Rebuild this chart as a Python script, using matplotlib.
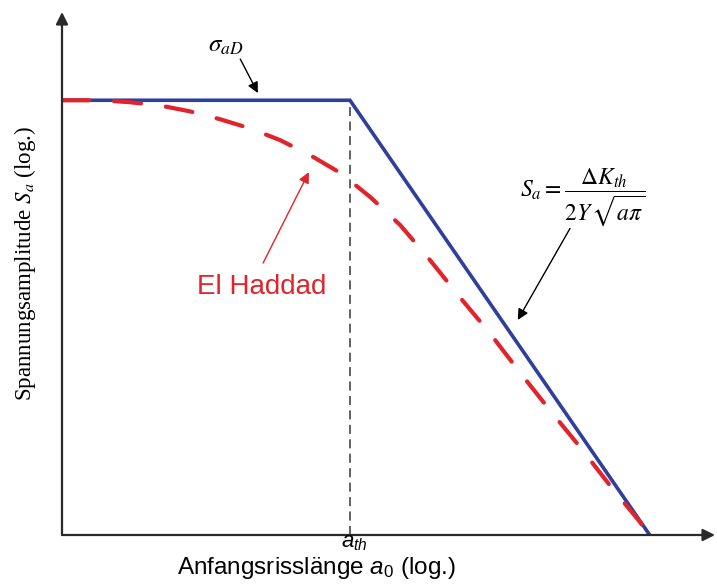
import numpy as np
import matplotlib
matplotlib.use("Agg")
import matplotlib.pyplot as plt

# ── Data (log units, arbitrary scale) ─────────────────────────────────────────

# Kitagawa–Takahashi limit: plateau at sigma_aD, then LEFM line
kt_x = [0.0, 4.41, 9.00]
kt_y = [6.65, 6.65, 0.0]

# El Haddad curve
eh_x = [0.0, 0.58, 1.04, 1.50, 1.96, 2.42, 2.88, 3.34, 3.80, 4.26, 4.72,
        5.18, 5.64, 6.09, 6.55, 7.01, 7.47, 7.93, 8.39, 8.85, 8.97]
eh_y = [6.65, 6.65, 6.62, 6.57, 6.48, 6.36, 6.22, 6.04, 5.81, 5.54, 5.17,
        4.74, 4.20, 3.64, 3.09, 2.49, 1.91, 1.35, 0.76, 0.20, 0.03]

a_th = kt_x[1]
sigma_aD = kt_y[0]

C_BLUE = "#2f3f9c"
C_RED  = "#e2232b"
C_AXIS = "#2a2a2a"

plt.rcParams.update({
    "font.family": "Liberation Sans",
    "mathtext.fontset": "custom",
    "mathtext.rm": "Liberation Sans",
    "mathtext.it": "Liberation Sans:italic",
})

fig = plt.figure(figsize=(7.17, 5.85), dpi=100)
ax = fig.add_axes([62 / 717, 50 / 585, 653 / 717, 523 / 585])
ax.set_xlim(0, 10)
ax.set_ylim(0, 8)
ax.axis("off")

# axes with arrow heads
arrow_kw = dict(arrowstyle="-|>", color=C_AXIS, lw=1.6, mutation_scale=18,
                shrinkA=0, shrinkB=0)
ax.annotate("", xy=(0, 1), xytext=(0, 0), xycoords="axes fraction", arrowprops=arrow_kw)
ax.annotate("", xy=(1, 0), xytext=(0, 0), xycoords="axes fraction", arrowprops=arrow_kw)

# threshold crack length
ax.plot([a_th, a_th], [0, sigma_aD], color="#555555", lw=1.3, ls=(0, (5, 3)))

ax.plot(kt_x, kt_y, color=C_BLUE, lw=2.6, solid_joinstyle="miter")
ax.plot(eh_x, eh_y, color=C_RED, lw=3.0, ls=(0, (6.5, 6)), dash_capstyle="round")

# labels and pointer arrows
def pointer(start, end, color="black"):
    ax.annotate("", xy=end, xytext=start,
                arrowprops=dict(arrowstyle="-|>", color=color, lw=1.0,
                                mutation_scale=16, shrinkA=0, shrinkB=0))

ax.text(2.50, 7.50, r"$\sigma_{aD}$", ha="center", va="center", fontsize=18,
        math_fontfamily="stix")
pointer((2.73, 7.28), (3.00, 6.76))

ax.text(7.98, 5.17, r"$S_a = \dfrac{\Delta K_{th}}{2Y\,\sqrt{a\pi}}$",
        ha="center", va="center", fontsize=17, math_fontfamily="stix")
pointer((7.78, 4.69), (6.98, 3.29))

ax.text(3.06, 3.79, "El Haddad", ha="center", va="center", fontsize=20, color=C_RED)
pointer((3.08, 4.16), (3.78, 5.55), color=C_RED)

ax.text(a_th + 0.06, -0.12, r"$a_{th}$", ha="center", va="center", fontsize=16,
        clip_on=False)
ax.text(3.89, -0.50, r"Anfangsrisslänge $a_0$ (log.)", ha="center", va="center",
        fontsize=17.5, clip_on=False)
ax.text(-0.57, 4.16, r"Spannungsamplitude $S_a$ (log.)", ha="center", va="center",
        rotation=90, fontsize=16.5, family="Liberation Serif", math_fontfamily="stix",
        clip_on=False)

fig.savefig("out.png", dpi=100, facecolor="white")
